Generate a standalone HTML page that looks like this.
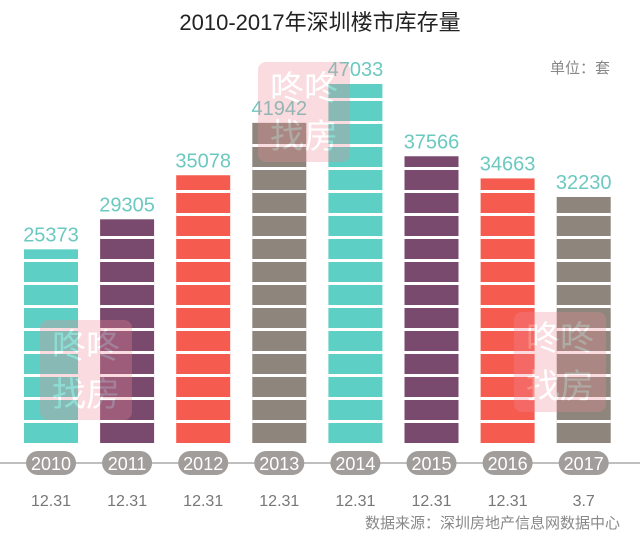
<!DOCTYPE html>
<html><head><meta charset="utf-8"><style>
body{margin:0;background:#fff;width:640px;height:538px;overflow:hidden;font-family:"Liberation Sans","Noto Sans CJK SC",sans-serif;}
svg text{font-family:"Liberation Sans","Noto Sans CJK SC",sans-serif;}
</style></head><body>
<svg id="chart" width="640" height="538" viewBox="0 0 640 538">
<text x="320" y="30" text-anchor="middle" font-size="22" fill="#222">2010-2017年深圳楼市库存量</text>
<text x="580" y="73" text-anchor="middle" font-size="15" fill="#888">单位：套</text>
<line x1="0" y1="463" x2="640" y2="463" stroke="#aaa" stroke-width="1.5"/>
<g id="bars"></g>
<g opacity="0.3">
<rect x="258" y="62" width="92" height="100" rx="8" fill="#f08a96"/>
<text x="304" y="100" text-anchor="middle" font-size="34" fill="#fff">咚咚</text>
<text x="304" y="148" text-anchor="middle" font-size="34" fill="#fff">找房</text>
</g>
<g opacity="0.3">
<rect x="40" y="320" width="92" height="100" rx="8" fill="#f08a96"/>
<text x="86" y="358" text-anchor="middle" font-size="34" fill="#fff">咚咚</text>
<text x="86" y="406" text-anchor="middle" font-size="34" fill="#fff">找房</text>
</g>
<g opacity="0.3">
<rect x="514" y="312" width="92" height="100" rx="8" fill="#f08a96"/>
<text x="560" y="350" text-anchor="middle" font-size="34" fill="#fff">咚咚</text>
<text x="560" y="398" text-anchor="middle" font-size="34" fill="#fff">找房</text>
</g>
<text x="620" y="528" text-anchor="end" font-size="15" fill="#888">数据来源：深圳房地产信息网数据中心</text>
</svg>
<script>
const years = ["2010","2011","2012","2013","2014","2015","2016","2017"];
const dates = ["12.31","12.31","12.31","12.31","12.31","12.31","12.31","3.7"];
const values = [25373,29305,35078,41942,47033,37566,34663,32230];
const colors = ["#5dcfc4","#7a4a6e","#f65b50","#8e867d","#5dcfc4","#7a4a6e","#f65b50","#8e867d"];
const NS="http://www.w3.org/2000/svg";
const g=document.getElementById('bars');
const base=443, scale=359/47033, bw=54;
function xc(i){return 51+i*76.1;}
function yv(v){return base-v*scale;}
function mk(t,a){const e=document.createElementNS(NS,t);for(const k in a)e.setAttribute(k,a[k]);g.appendChild(e);return e;}
values.forEach((v,i)=>{
  const x=xc(i)-bw/2, top=yv(v);
  const r=mk('rect',{x:x,y:top,width:bw,height:base-top,fill:colors[i]});
  
  
  for(let s=base-23;s>top+3;s-=23){
    const st=mk('rect',{x:x,y:s,width:bw,height:3,fill:'#fff'});
    
    
  }
  const t=mk('text',{x:xc(i),y:top-8,'text-anchor':'middle','font-size':20,fill:'#6cc9c0'});
  t.textContent=v;
  
  
  const p=mk('rect',{x:xc(i)-25,y:451,width:50,height:24,rx:12,fill:'#a09d9b'});
  
  
  const yt=mk('text',{x:xc(i),y:470,'text-anchor':'middle','font-size':18,fill:'#fff'});
  yt.textContent=years[i];
  
  
  const dt=mk('text',{x:xc(i),y:506,'text-anchor':'middle','font-size':16,fill:'#777'});
  dt.textContent=dates[i];
  
  
});
</script>
</body></html>
